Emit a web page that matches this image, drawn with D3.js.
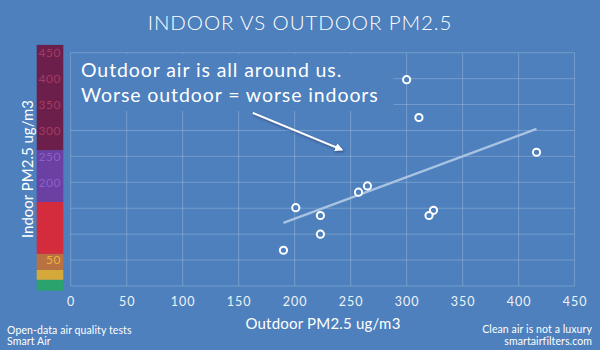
<!DOCTYPE html>
<html>
<head>
<meta charset="utf-8">
<script src="https://cdn.jsdelivr.net/npm/d3@7"></script>
<style>
  html, body { margin: 0; padding: 0; background: #4d80bd; }
  svg { display: block; font-family: Lato, "Open Sans", sans-serif; }
</style>
</head>
<body>
<svg id="chart" width="600" height="350"></svg>
<script>
// Paired PM2.5 readings (ug/m3), one entry per test
const outdoor = [300, 311, 416, 265, 257, 201, 223, 324, 320, 223, 190];
const indoor  = [398, 325, 258, 193, 181, 151, 136, 146, 136, 100, 69];

const xTicks = [0, 50, 100, 150, 200, 250, 300, 350, 400, 450];
const yTicks = [0, 50, 100, 150, 200, 250, 300, 350, 400, 450];

// Air-quality colour bar beside the y axis (band edges in ug/m3)
const bandEdges  = [-9, 12, 31, 62, 162, 262, 465];
const bandColors = ["#2aa36c", "#d5a83a", "#b9713f", "#d42b3d", "#6a40a3", "#6d1f4b"];
const bandTextColors = ["#2aa36c", "#d5a83a", "#e8b446", "#d42b3d", "#8c60c6", "#a43b63"];

const titleText = "INDOOR VS OUTDOOR PM2.5";
const xTitle = "Outdoor PM2.5 ug/m3";
const yTitle = "Indoor PM2.5 ug/m3";
const noteLines = ["Outdoor air is all around us.", "Worse outdoor = worse indoors"];
const footLeft = ["Open-data air quality tests", "Smart Air"];
const footRight = ["Clean air is not a luxury", "smartairfilters.com"];

const W = 600, H = 350;
const bg = "#4d80bd";
const margin = { top: 52.7, right: 25.4, bottom: 64, left: 70.7 };

const svg = d3.select("#chart");
svg.append("rect").attr("width", W).attr("height", H).attr("fill", bg);

const x = d3.scaleLinear().domain([0, 450]).range([margin.left, W - margin.right]);
const y = d3.scaleLinear().domain([0, 450]).range([H - margin.bottom, margin.top]);

const defs = svg.append("defs");
const shadow = defs.append("filter").attr("id", "shadow")
  .attr("x", "-20%").attr("y", "-50%").attr("width", "140%").attr("height", "200%");
shadow.append("feDropShadow").attr("dx", 1).attr("dy", 1.5).attr("stdDeviation", 1)
  .attr("flood-color", "#2a2a60").attr("flood-opacity", 0.6);
defs.append("marker").attr("id", "head")
  .attr("viewBox", "0 0 10 10").attr("refX", 8).attr("refY", 5)
  .attr("markerWidth", 4).attr("markerHeight", 4).attr("orient", "auto")
  .append("path").attr("d", "M0,0 L10,5 L0,10 z").attr("fill", "#ffffff");

// Title
svg.append("text")
  .attr("x", W / 2).attr("y", 30)
  .attr("text-anchor", "middle")
  .attr("fill", "#ffffff")
  .attr("font-size", 20.5)
  .attr("font-weight", 300)
  .attr("letter-spacing", 0.9)
  .text(titleText);

// Grid
const grid = svg.append("g").attr("stroke", "#ffffff").attr("stroke-opacity", 0.22).attr("stroke-width", 1);
grid.selectAll(".gx").data(xTicks).join("line")
  .attr("x1", d => x(d)).attr("x2", d => x(d))
  .attr("y1", y(0)).attr("y2", y(450));
grid.selectAll(".gy").data(yTicks).join("line")
  .attr("x1", x(0)).attr("x2", x(450))
  .attr("y1", d => y(d)).attr("y2", d => y(d));

// Colour bar
const bands = d3.range(bandColors.length).map(i => ({ lo: bandEdges[i], hi: bandEdges[i + 1], c: bandColors[i], t: bandTextColors[i] }));
svg.append("g").selectAll("rect").data(bands).join("rect")
  .attr("x", 36.7).attr("width", 26.6)
  .attr("y", d => y(d.hi)).attr("height", d => y(d.lo) - y(d.hi))
  .attr("fill", d => d.c);

const bandOf = v => bands.find(b => v >= b.lo && v < b.hi) || bands[bands.length - 1];
const yAxis = svg.append("g").attr("transform", `translate(${61},0)`)
  .call(d3.axisLeft(y).tickValues(yTicks).tickSize(0).tickPadding(0));
yAxis.select(".domain").remove();
yAxis.selectAll("text")
  .attr("font-family", "Lato, 'Open Sans', sans-serif")
  .attr("font-size", 12)
  .attr("letter-spacing", 0.5)
  .attr("fill", d => bandOf(d).t);

// X axis labels
const xAxis = svg.append("g").attr("transform", `translate(0,${y(0)})`)
  .call(d3.axisBottom(x).tickValues(xTicks).tickSize(0).tickPadding(11));
xAxis.select(".domain").remove();
xAxis.selectAll("text")
  .attr("font-family", "Lato, 'Open Sans', sans-serif")
  .attr("font-size", 12.5)
  .attr("letter-spacing", 1)
  .attr("fill", "#eef3fa");

// Axis titles
svg.append("text")
  .attr("x", 323).attr("y", 329)
  .attr("text-anchor", "middle")
  .attr("fill", "#ffffff").attr("font-size", 15)
  .attr("letter-spacing", 0.2)
  .text(xTitle);
svg.append("text")
  .attr("transform", `translate(33,169) rotate(-90)`)
  .attr("text-anchor", "middle")
  .attr("fill", "#ffffff").attr("font-size", 15)
  .text(yTitle);

// Regression line (least squares over the observed outdoor range)
const mx = d3.mean(outdoor), my = d3.mean(indoor);
const slope = d3.sum(outdoor, (v, i) => (v - mx) * (indoor[i] - my)) / d3.sum(outdoor, v => (v - mx) ** 2);
const icpt = my - slope * mx;
const [x0, x1] = d3.extent(outdoor);
svg.append("line")
  .attr("x1", x(x0)).attr("y1", y(icpt + slope * x0))
  .attr("x2", x(x1)).attr("y2", y(icpt + slope * x1))
  .attr("stroke", "#b4cae6").attr("stroke-opacity", 0.9)
  .attr("stroke-width", 2.4);

// Points
svg.append("g").selectAll("circle").data(outdoor).join("circle")
  .attr("cx", d => x(d)).attr("cy", (d, i) => y(indoor[i]))
  .attr("r", 3.6)
  .attr("fill", bg)
  .attr("stroke", "#ffffff").attr("stroke-width", 2);

// Annotation panel and arrow
svg.append("rect")
  .attr("x", x(0) + 0.5).attr("y", y(450) + 1.5)
  .attr("width", 393 - x(0)).attr("height", 111 - y(450) - 1.5)
  .attr("fill", bg);
svg.append("g").selectAll("text").data(noteLines).join("text")
  .attr("x", 81).attr("y", (d, i) => 76.7 + i * 25)
  .attr("fill", "#ffffff").attr("font-size", 19.5)
  .attr("letter-spacing", 0.9)
  .text(d => d);
svg.append("line")
  .attr("x1", x(162.6)).attr("y1", y(334))
  .attr("x2", x(242)).attr("y2", y(263))
  .attr("stroke", "#ffffff").attr("stroke-width", 2)
  .attr("marker-end", "url(#head)")
  .attr("filter", "url(#shadow)");

// Footer
svg.append("g").selectAll("text").data(footLeft).join("text")
  .attr("x", 7).attr("y", (d, i) => 333.5 + i * 11.5)
  .attr("fill", "#ffffff").attr("font-size", 10.5)
  .attr("letter-spacing", 0.1)
  .text(d => d);
svg.append("g").selectAll("text").data(footRight).join("text")
  .attr("x", 592).attr("y", (d, i) => 333 + i * 11.5)
  .attr("text-anchor", "end")
  .attr("fill", "#ffffff").attr("font-size", 10.5)
  .attr("letter-spacing", 0.1)
  .text(d => d);
</script>
</body>
</html>
